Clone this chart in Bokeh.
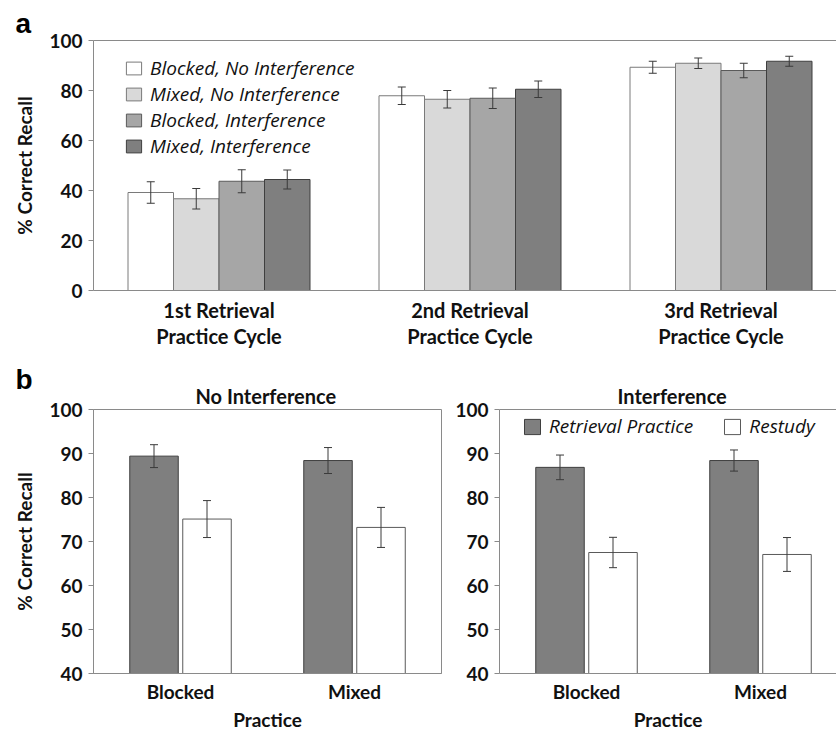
from bokeh.plotting import figure
from bokeh.models import (Range1d, FixedTicker, LinearAxis, Legend, LegendItem,
                          Whisker, TeeHead, ColumnDataSource, Title)
from bokeh.layouts import column, row
from bokeh.embed import file_html
from bokeh.resources import INLINE

# ---------------- data: panel a ----------------
cycles = ["1st Retrieval\nPractice Cycle", "2nd Retrieval\nPractice Cycle",
          "3rd Retrieval\nPractice Cycle"]
conditions = ["Blocked, No Interference", "Mixed, No Interference",
              "Blocked, Interference", "Mixed, Interference"]
recall_blocked_noint = [39.2, 77.9, 89.3]
recall_mixed_noint = [36.7, 76.5, 90.9]
recall_blocked_int = [43.7, 76.9, 88.0]
recall_mixed_int = [44.4, 80.5, 91.7]
se_blocked_noint = [4.3, 3.5, 2.4]
se_mixed_noint = [4.1, 3.5, 2.1]
se_blocked_int = [4.6, 4.1, 2.9]
se_mixed_int = [3.8, 3.3, 2.0]
ticks_a = [0, 20, 40, 60, 80, 100]

# ---------------- data: panel b ----------------
practice = ["Blocked", "Mixed"]
study = ["Retrieval Practice", "Restudy"]
noint_rp = [89.4, 88.4]
noint_rs = [75.1, 73.2]
noint_rp_se = [2.6, 2.95]
noint_rs_se = [4.2, 4.55]
int_rp = [86.85, 88.4]
int_rs = [67.5, 67.05]
int_rp_se = [2.8, 2.4]
int_rs_se = [3.45, 3.85]
ticks_b = [40, 50, 60, 70, 80, 90, 100]

AX = "#8a8a8a"
ERR = "#3a3a3a"
TXT = "#111111"
BOLD = "Lato"
ITAL = "Open Sans"


def style_axis(ax, size="19px"):
    ax.axis_line_color = AX
    ax.major_tick_line_color = AX
    ax.minor_tick_line_color = None
    ax.major_tick_in = 0
    ax.major_label_text_font = BOLD
    ax.major_label_text_font_style = "bold"
    ax.major_label_text_font_size = size
    ax.major_label_text_color = TXT
    ax.axis_label_text_font = BOLD
    ax.axis_label_text_font_style = "bold"
    ax.axis_label_text_font_size = size
    ax.axis_label_text_color = TXT


def setup_axes(p, xticks, xlabels, yticks, xsize, ylabel=None, xlabel=None):
    p.xgrid.grid_line_color = None
    p.ygrid.grid_line_color = None
    xa = p.below[0]
    ya = p.left[0]
    style_axis(xa, xsize)
    style_axis(ya, "19px")
    xa.major_tick_out = 0
    xa.ticker = FixedTicker(ticks=xticks)
    xa.major_label_overrides = {x: lab for x, lab in zip(xticks, xlabels)}
    ya.ticker = FixedTicker(ticks=yticks)
    ya.major_tick_out = 5
    ya.major_label_standoff = 6
    ya.axis_label_standoff = 10
    if ylabel:
        ya.axis_label = ylabel
    if xlabel:
        xa.axis_label = xlabel
    return xa, ya


def top_line(p):
    top = LinearAxis(ticker=FixedTicker(ticks=[]), axis_line_color=AX,
                     major_tick_out=0, major_tick_in=0, minor_tick_out=0,
                     minor_tick_in=0, major_label_standoff=0)
    p.add_layout(top, "above")


def whisker(p, xs, means, ses):
    src = ColumnDataSource(dict(base=xs,
                                upper=[m + s for m, s in zip(means, ses)],
                                lower=[m - s for m, s in zip(means, ses)]))
    w = Whisker(source=src, base="base", upper="upper", lower="lower",
                line_color=ERR, line_width=1, level="annotation",
                upper_head=TeeHead(size=8, line_color=ERR, line_width=1),
                lower_head=TeeHead(size=8, line_color=ERR, line_width=1))
    p.add_layout(w)


def panel_letter(p, letter, standoff):
    p.add_layout(Title(text=letter, align="left", offset=-78, standoff=standoff,
                       text_font="Liberation Sans", text_font_style="bold",
                       text_font_size="28px", text_color="#000000"), "above")


# ================= panel a =================
W = 836
PXU_A = 251.0           # pixels per category
LEFT_A = 93
H_A = 363
pa = figure(width=W, height=H_A, output_backend="svg", toolbar_location=None,
            x_range=Range1d(-0.5, -0.5 + (W - LEFT_A) / PXU_A),
            y_range=Range1d(0, 100),
            min_border_left=LEFT_A, min_border_right=0, min_border_top=40,
            min_border_bottom=H_A - 290)
pa.outline_line_color = None
xa, ya = setup_axes(pa, list(range(len(cycles))), cycles, ticks_a, "20px",
                    ylabel="% Correct Recall")
xa.major_label_standoff = 7
xa.major_label_text_line_height = 1.1
top_line(pa)
panel_letter(pa, "a", 4)

series_a = [recall_blocked_noint, recall_mixed_noint, recall_blocked_int, recall_mixed_int]
errs_a = [se_blocked_noint, se_mixed_noint, se_blocked_int, se_mixed_int]
fills_a = ["#ffffff", "#d9d9d9", "#a6a6a6", "#7f7f7f"]
lines_a = ["#7a7a7a", "#7a7a7a", "#5a5a5a", "#3f3f3f"]
bw_a = 45.5 / PXU_A
items_a = []
for k, vals in enumerate(series_a):
    xs = [i + (k - 1.5) * bw_a for i in range(len(cycles))]
    r = pa.vbar(x=xs, top=vals, bottom=0, width=bw_a, fill_color=fills_a[k],
                line_color=lines_a[k], line_width=1)
    items_a.append(LegendItem(label=conditions[k], renderers=[r]))
for k, (vals, errs) in enumerate(zip(series_a, errs_a)):
    xs = [i + (k - 1.5) * bw_a for i in range(len(cycles))]
    whisker(pa, xs, vals, errs)

leg_a = Legend(items=items_a, location=(31, 131), orientation="vertical",
               glyph_width=19, glyph_height=16, label_standoff=7, spacing=0,
               label_height=16, padding=0, margin=0, border_line_color=None,
               background_fill_alpha=0, label_text_font=ITAL,
               label_text_font_style="italic", label_text_font_size="19px",
               label_text_color=TXT)
pa.add_layout(leg_a)

# ================= panel b =================
PXU_B = 174.0
H_B = 733 - H_A
TOP_B = 409 - H_A
BOT_B = 733 - 674
bw_b = 48.5 / PXU_B
off_b = 26.5 / PXU_B
fills_b = ["#7f7f7f", "#ffffff"]
lines_b = ["#3f3f3f", "#5a5a5a"]


def panel_b(width, left, right, title, title_off, rp, rs, rp_se, rs_se,
            ylabel=None, legend=False, closed=True, letter=None):
    frame_w = width - left - right
    p = figure(width=width, height=H_B, output_backend="svg", toolbar_location=None,
               x_range=Range1d(0, frame_w / PXU_B), y_range=Range1d(40, 100),
               min_border_left=left, min_border_right=right,
               min_border_top=TOP_B, min_border_bottom=BOT_B)
    xt = [i + 0.5 for i in range(len(practice))]
    xa, ya = setup_axes(p, xt, practice, ticks_b, "19px", ylabel=ylabel,
                        xlabel="Practice")
    xa.major_label_standoff = 6
    xa.axis_label_standoff = 2
    if closed:
        p.outline_line_color = AX
    else:
        p.outline_line_color = None
        top_line(p)
    items = []
    for k, (vals, errs) in enumerate([(rp, rp_se), (rs, rs_se)]):
        xs = [x + (2 * k - 1) * off_b for x in xt]
        r = p.vbar(x=xs, top=vals, bottom=40, width=bw_b, fill_color=fills_b[k],
                   line_color=lines_b[k], line_width=1)
        items.append(LegendItem(label=study[k], renderers=[r]))
        whisker(p, xs, vals, errs)
    p.add_layout(Title(text=title, align="left", offset=title_off, standoff=3,
                       text_font=BOLD, text_font_style="bold",
                       text_font_size="20px", text_color=TXT), "above")
    if letter:
        panel_letter(p, letter, -28)
    if legend:
        lg = Legend(items=items, location=(23, 234), orientation="horizontal",
                    glyph_width=20, glyph_height=19, label_standoff=7, spacing=29,
                    padding=0, margin=0, border_line_color=None,
                    background_fill_alpha=0, label_text_font=ITAL,
                    label_text_font_style="italic", label_text_font_size="19px",
                    label_text_color=TXT)
        p.add_layout(lg)
    return p


pbl = panel_b(443, 93, 2, "No Interference", 102, noint_rp, noint_rs,
              noint_rp_se, noint_rs_se, ylabel="% Correct Recall", letter="b")
pbr = panel_b(W - 443, 56, 0, "Interference", 118, int_rp, int_rs,
              int_rp_se, int_rs_se, legend=True, closed=False)

layout = column(pa, row(pbl, pbr))
open("out.html", "w").write(file_html(layout, INLINE))
